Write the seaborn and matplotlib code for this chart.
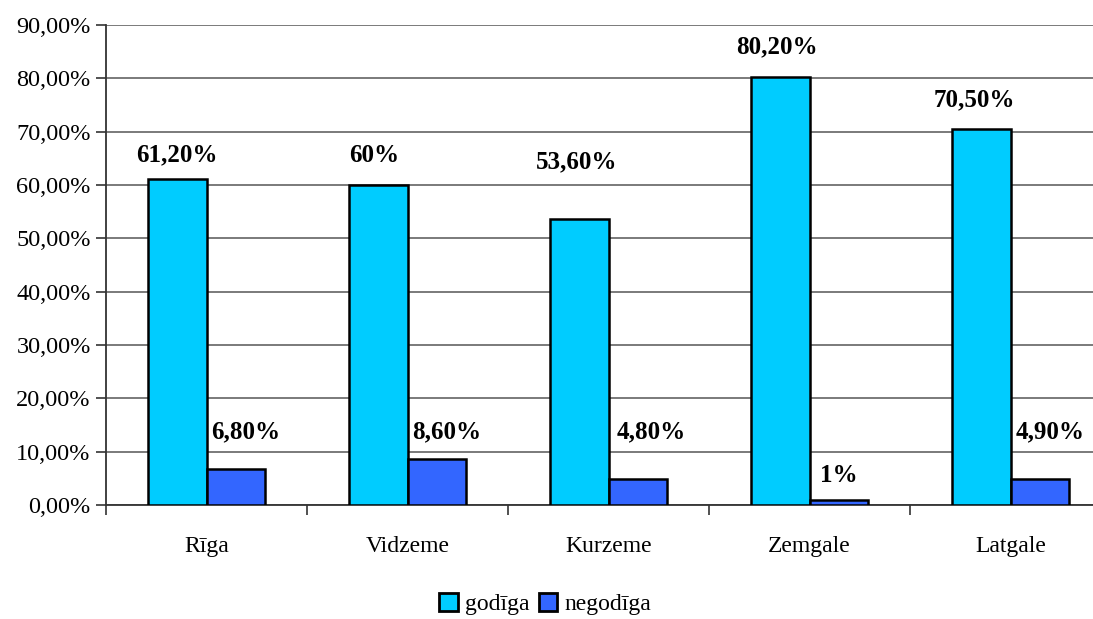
import matplotlib
matplotlib.use("Agg")
import matplotlib.pyplot as plt
import seaborn as sns
import pandas as pd
from matplotlib.ticker import FuncFormatter, FixedLocator

regions = ["Rīga", "Vidzeme", "Kurzeme", "Zemgale", "Latgale"]
godiga = [61.2, 60.0, 53.6, 80.2, 70.5]
negodiga = [6.8, 8.6, 4.8, 1.0, 4.9]
godiga_labels = ["61,20%", "60%", "53,60%", "80,20%", "70,50%"]
negodiga_labels = ["6,80%", "8,60%", "4,80%", "1%", "4,90%"]

# label placement (data coords), Excel style
godiga_label_y = [65.6, 65.6, 64.3, 85.9, 75.9]
negodiga_label_y = [13.7, 13.7, 13.7, 5.6, 13.7]
godiga_label_dx = [0.0, -0.02, -0.015, -0.015, -0.035]
negodiga_label_dx = [0.05, 0.05, 0.07, 0.0, 0.05]

df = pd.DataFrame({
    "region": regions * 2,
    "value": godiga + negodiga,
    "serie": ["godīga"] * 5 + ["negodīga"] * 5,
})

sns.set_style("white")
plt.rcParams["font.family"] = ["Liberation Serif", "DejaVu Serif"]
plt.rcParams["text.color"] = "black"
plt.rcParams["xtick.color"] = "#333333"
plt.rcParams["ytick.color"] = "#333333"
plt.rcParams["xtick.labelcolor"] = "black"
plt.rcParams["ytick.labelcolor"] = "black"

fig = plt.figure(figsize=(10.93, 6.19), dpi=100)
ax = fig.add_axes([106 / 1093, 1 - 505 / 619, 1005 / 1093, 480 / 619])

sns.barplot(data=df, x="region", y="value", hue="serie",
            palette=["#00CCFF", "#3366FF"], saturation=1, width=0.58, gap=0,
            edgecolor="black", linewidth=1.8, ax=ax, zorder=3)

ax.set_ylim(0, 90)
ax.set_xlim(-0.5, 4.5)
ax.yaxis.set_major_locator(FixedLocator(range(0, 91, 10)))
ax.yaxis.set_major_formatter(FuncFormatter(lambda v, p: f"{v:.2f}".replace(".", ",") + "%"))
ax.grid(axis="y", color="#707070", linewidth=1.3, zorder=0)
ax.set_axisbelow(True)

for s in ["top", "right"]:
    ax.spines[s].set_visible(False)
ax.spines["left"].set_color("#333333")
ax.spines["bottom"].set_color("#333333")
ax.spines["left"].set_linewidth(1.3)
ax.spines["bottom"].set_linewidth(1.3)

ax.set_xticks(range(5))
ax.set_xticklabels(regions)
ax.tick_params(axis="x", which="major", bottom=False, length=0, pad=22, labelsize=17)
ax.set_xticks([i + 0.5 for i in range(-1, 5)], minor=True)
ax.tick_params(axis="x", which="minor", bottom=True, length=7, width=1.2, direction="out")
ax.tick_params(axis="y", left=True, length=7, width=1.2, direction="out", labelsize=17.5, pad=4)
ax.set_xlabel("")
ax.set_ylabel("")

for i in range(5):
    ax.text(i - 0.145 + godiga_label_dx[i], godiga_label_y[i], godiga_labels[i],
            ha="center", va="center", fontsize=18, fontweight="bold")
    ax.text(i + 0.145 + negodiga_label_dx[i], negodiga_label_y[i], negodiga_labels[i],
            ha="center", va="center", fontsize=18, fontweight="bold")

handles, labels = ax.get_legend_handles_labels()
for h in handles:
    h.set_linewidth(2)
ax.legend(handles, labels, loc="center", bbox_to_anchor=(545 / 1093, 1 - 604 / 619),
          bbox_transform=fig.transFigure, ncol=2, frameon=False,
          prop={"family": ["Liberation Serif", "DejaVu Serif"], "size": 17},
          handlelength=0.8, handleheight=0.8, handletextpad=0.3, columnspacing=0.4)

fig.savefig("out.png", dpi=100)
